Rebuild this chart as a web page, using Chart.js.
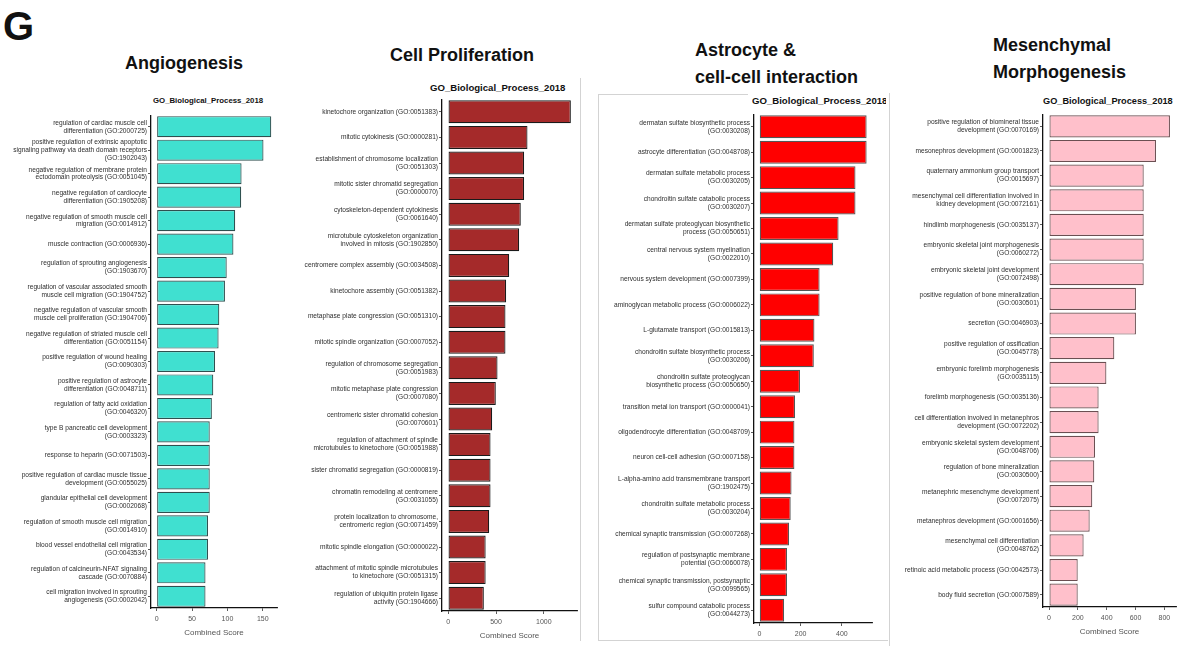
<!DOCTYPE html>
<html>
<head>
<meta charset="utf-8">
<script src="https://cdn.jsdelivr.net/npm/chart.js@4"></script>
<style>
  html, body { margin: 0; padding: 0; background: #fff; }
  #fig { position: relative; width: 1184px; height: 646px; overflow: hidden;
         font-family: "Liberation Sans", Arial, sans-serif; color: #111; }
  .abs { position: absolute; }
  .letter { left: 3px; top: 4px; font-size: 40px; font-weight: bold; line-height: 44px; }
  .ptitle { font-size: 18px; font-weight: bold; line-height: 27px; white-space: nowrap; }
  .sub { font-weight: bold; white-space: nowrap; line-height: 12px; }
  .clip { overflow: hidden; }
  .line { position: absolute; background: #d3d3d3; }
  canvas { position: absolute; }
</style>
</head>
<body>
<div id="fig">
  <div class="abs letter">G</div>

  <div class="abs ptitle" style="left:125px; top:50px;">Angiogenesis</div>
  <div class="abs ptitle" style="left:390px; top:42px;">Cell Proliferation</div>
  <div class="abs ptitle" style="left:695px; top:37px;">Astrocyte &amp;<br>cell-cell interaction</div>
  <div class="abs ptitle" style="left:993px; top:32px;">Mesenchymal<br>Morphogenesis</div>

  <div class="abs sub" style="left:153px; top:95px; font-size:7.8px;">GO_Biological_Process_2018</div>
  <div class="abs sub" style="left:430px; top:82px; font-size:9.6px;">GO_Biological_Process_2018</div>
  <div class="abs sub clip" style="left:752px; top:95px; width:134px; font-size:9.6px;">GO_Biological_Process_2018</div>
  <div class="abs sub" style="left:1043px; top:95px; font-size:9.2px;">GO_Biological_Process_2018</div>

  <!-- panel frames -->
  <div class="line" style="left:580px; top:78px; width:1px; height:563px;"></div>
  <div class="line" style="left:598px; top:94px; width:1px; height:547px;"></div>
  <div class="line" style="left:598px; top:94px; width:150px; height:1px;"></div>
  <div class="line" style="left:598px; top:640px; width:290px; height:1px;"></div>
  <div class="line" style="left:889px; top:93px; width:1px; height:553px;"></div>

  <canvas id="c1"></canvas>
  <canvas id="c2"></canvas>
  <div class="abs clip" style="left:0; top:0; width:887px; height:641px;">
    <canvas id="c3"></canvas>
  </div>
  <canvas id="c4"></canvas>
</div>

<script>
// ---- Angiogenesis ----
const angioTerms = [
  "regulation of cardiac muscle cell differentiation (GO:2000725)",
  "positive regulation of extrinsic apoptotic signaling pathway via death domain receptors (GO:1902043)",
  "negative regulation of membrane protein ectodomain proteolysis (GO:0051045)",
  "negative regulation of cardiocyte differentiation (GO:1905208)",
  "negative regulation of smooth muscle cell migration (GO:0014912)",
  "muscle contraction (GO:0006936)",
  "regulation of sprouting angiogenesis (GO:1903670)",
  "regulation of vascular associated smooth muscle cell migration (GO:1904752)",
  "negative regulation of vascular smooth muscle cell proliferation (GO:1904706)",
  "negative regulation of striated muscle cell differentiation (GO:0051154)",
  "positive regulation of wound healing (GO:0090303)",
  "positive regulation of astrocyte differentiation (GO:0048711)",
  "regulation of fatty acid oxidation (GO:0046320)",
  "type B pancreatic cell development (GO:0003323)",
  "response to heparin (GO:0071503)",
  "positive regulation of cardiac muscle tissue development (GO:0055025)",
  "glandular epithelial cell development (GO:0002068)",
  "regulation of smooth muscle cell migration (GO:0014910)",
  "blood vessel endothelial cell migration (GO:0043534)",
  "regulation of calcineurin-NFAT signaling cascade (GO:0070884)",
  "cell migration involved in sprouting angiogenesis (GO:0002042)"
];
const angioScores = [162, 151, 120, 119.5, 111, 108.5, 99, 96.5, 88.5, 87.5, 82.5, 80, 78, 75, 75, 75, 75, 72.5, 72.5, 69, 69];
const angioTicks = [0, 50, 100, 150];

// ---- Cell Proliferation ----
const prolifTerms = [
  "kinetochore organization (GO:0051383)",
  "mitotic cytokinesis (GO:0000281)",
  "establishment of chromosome localization (GO:0051303)",
  "mitotic sister chromatid segregation (GO:0000070)",
  "cytoskeleton-dependent cytokinesis (GO:0061640)",
  "microtubule cytoskeleton organization involved in mitosis (GO:1902850)",
  "centromere complex assembly (GO:0034508)",
  "kinetochore assembly (GO:0051382)",
  "metaphase plate congression (GO:0051310)",
  "mitotic spindle organization (GO:0007052)",
  "regulation of chromosome segregation (GO:0051983)",
  "mitotic metaphase plate congression (GO:0007080)",
  "centromeric sister chromatid cohesion (GO:0070601)",
  "regulation of attachment of spindle microtubules to kinetochore (GO:0051988)",
  "sister chromatid segregation (GO:0000819)",
  "chromatin remodeling at centromere (GO:0031055)",
  "protein localization to chromosome, centromeric region (GO:0071459)",
  "mitotic spindle elongation (GO:0000022)",
  "attachment of mitotic spindle microtubules to kinetochore (GO:0051315)",
  "regulation of ubiquitin protein ligase activity (GO:1904666)"
];
const prolifScores = [1282, 829, 794, 794, 759, 742, 638, 606, 599, 599, 516, 498, 460, 443, 443, 443, 429, 392, 392, 373];
const prolifTicks = [0, 500, 1000];

// ---- Astrocyte & cell-cell interaction ----
const astroTerms = [
  "dermatan sulfate biosynthetic process (GO:0030208)",
  "astrocyte differentiation (GO:0048708)",
  "dermatan sulfate metabolic process (GO:0030205)",
  "chondroitin sulfate catabolic process (GO:0030207)",
  "dermatan sulfate proteoglycan biosynthetic process (GO:0050651)",
  "central nervous system myelination (GO:0022010)",
  "nervous system development (GO:0007399)",
  "aminoglycan metabolic process (GO:0006022)",
  "L-glutamate transport (GO:0015813)",
  "chondroitin sulfate biosynthetic process (GO:0030206)",
  "chondroitin sulfate proteoglycan biosynthetic process (GO:0050650)",
  "transition metal ion transport (GO:0000041)",
  "oligodendrocyte differentiation (GO:0048709)",
  "neuron cell-cell adhesion (GO:0007158)",
  "L-alpha-amino acid transmembrane transport (GO:1902475)",
  "chondroitin sulfate metabolic process (GO:0030204)",
  "chemical synaptic transmission (GO:0007268)",
  "regulation of postsynaptic membrane potential (GO:0060078)",
  "chemical synaptic transmission, postsynaptic (GO:0099565)",
  "sulfur compound catabolic process (GO:0044273)"
];
const astroScores = [520, 520, 466, 466, 384, 358, 292, 292, 267, 264, 197, 173, 170, 170, 156, 152, 144, 134, 134, 120];
const astroTicks = [0, 200, 400];

// ---- Mesenchymal Morphogenesis ----
const mesenTerms = [
  "positive regulation of biomineral tissue development (GO:0070169)",
  "mesonephros development (GO:0001823)",
  "quaternary ammonium group transport (GO:0015697)",
  "mesenchymal cell differentiation involved in kidney development (GO:0072161)",
  "hindlimb morphogenesis (GO:0035137)",
  "embryonic skeletal joint morphogenesis (GO:0060272)",
  "embryonic skeletal joint development (GO:0072498)",
  "positive regulation of bone mineralization (GO:0030501)",
  "secretion (GO:0046903)",
  "positive regulation of ossification (GO:0045778)",
  "embryonic forelimb morphogenesis (GO:0035115)",
  "forelimb morphogenesis (GO:0035136)",
  "cell differentiation involved in metanephros development (GO:0072202)",
  "embryonic skeletal system development (GO:0048706)",
  "regulation of bone mineralization (GO:0030500)",
  "metanephric mesenchyme development (GO:0072075)",
  "metanephros development (GO:0001656)",
  "mesenchymal cell differentiation (GO:0048762)",
  "retinoic acid metabolic process (GO:0042573)",
  "body fluid secretion (GO:0007589)"
];
const mesenScores = [839, 742, 657, 657, 657, 657, 657, 603, 603, 453, 398, 344, 344, 319, 314, 300, 282, 240, 199, 199];
const mesenTicks = [0, 200, 400, 600, 800];

// Greedy word wrap for long GO term names
function wrapTerm(text, maxChars) {
  const words = text.split(' ');
  const lines = [];
  let cur = '';
  for (const w of words) {
    const next = cur ? cur + ' ' + w : w;
    if (next.length > maxChars && cur) { lines.push(cur); cur = w; }
    else cur = next;
  }
  if (cur) lines.push(cur);
  return lines;
}

const LABEL_W = 152;   // width reserved for term names + ticks

function drawPanel(id, terms, scores, tickValues, look, box) {
  const canvas = document.getElementById(id);
  const left = box.plotLeft - LABEL_W;
  const xAxisH = box.showTitle ? 30 : 18;
  const w = box.plotRight - left + 4;
  const h = box.plotBottom - box.top + xAxisH;
  canvas.width = w; canvas.height = h;
  canvas.style.left = left + 'px';
  canvas.style.top = box.top + 'px';
  canvas.style.width = w + 'px';
  canvas.style.height = h + 'px';

  const top = Math.max(...scores);
  new Chart(canvas, {
    type: 'bar',
    data: {
      labels: terms.map(t => wrapTerm(t, 44)),
      datasets: [{
        data: scores,
        backgroundColor: look.fill,
        borderColor: look.edge,
        borderWidth: 1.2,
        borderSkipped: false,
        categoryPercentage: 0.9,
        barPercentage: 1.0
      }]
    },
    options: {
      indexAxis: 'y',
      responsive: false,
      animation: false,
      devicePixelRatio: 1,
      layout: { padding: { left: 0, right: 4, top: 0, bottom: 0 } },
      plugins: { legend: { display: false }, tooltip: { enabled: false }, title: { display: false } },
      scales: {
        y: {
          type: 'category',
          offset: true,
          ticks: { autoSkip: false, color: '#2e2e2e', padding: 1,
                   font: { family: '"Liberation Sans", Arial, sans-serif', size: 6.6, lineHeight: 1.2 } },
          grid: { display: true, drawOnChartArea: false, drawTicks: true, tickLength: 3,
                  offset: false, color: '#333', lineWidth: 0.8 },
          border: { display: true, color: '#111', width: 1.3 },
          afterFit: s => { s.width = LABEL_W; s.paddingTop = 0; s.paddingBottom = 0; }
        },
        x: {
          type: 'linear',
          min: -0.05 * top,
          max: 1.05 * top,
          afterBuildTicks: s => { s.ticks = tickValues.map(v => ({ value: v })); },
          ticks: { color: '#555', padding: 4, maxRotation: 0,
                   font: { family: '"Liberation Sans", Arial, sans-serif', size: 7 },
                   callback: v => String(v) },
          grid: { display: true, drawOnChartArea: false, drawTicks: true, tickLength: 3,
                  color: '#333', lineWidth: 0.8 },
          border: { display: true, color: '#111', width: 1.3 },
          title: { display: box.showTitle, text: 'Combined Score', color: '#555',
                   padding: { top: 0, bottom: 0 },
                   font: { family: '"Liberation Sans", Arial, sans-serif', size: 8 } },
          afterFit: s => { s.height = xAxisH; s.paddingLeft = 0; s.paddingRight = 0; }
        }
      }
    }
  });
}

drawPanel('c1', angioTerms, angioScores, angioTicks,
  { fill: '#40E0D0', edge: '#2f4f4f' },
  { plotLeft: 151, plotRight: 277, top: 115, plotBottom: 608, showTitle: true });
drawPanel('c2', prolifTerms, prolifScores, prolifTicks,
  { fill: '#A52A2A', edge: '#1a1a1a' },
  { plotLeft: 442, plotRight: 577, top: 99, plotBottom: 611, showTitle: true });
drawPanel('c3', astroTerms, astroScores, astroTicks,
  { fill: '#FF0000', edge: '#555555' },
  { plotLeft: 754, plotRight: 872, top: 114, plotBottom: 623, showTitle: false });
drawPanel('c4', mesenTerms, mesenScores, mesenTicks,
  { fill: '#FFC0CB', edge: '#6b4f52' },
  { plotLeft: 1043, plotRight: 1176, top: 114, plotBottom: 607, showTitle: true });
</script>
</body>
</html>
